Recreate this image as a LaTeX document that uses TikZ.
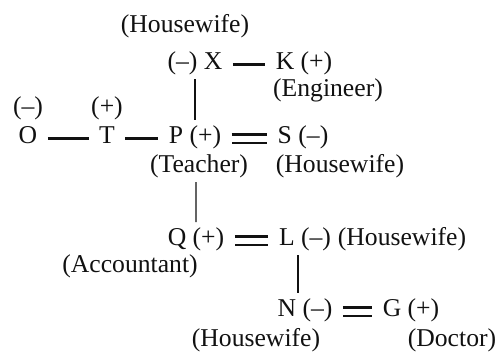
\documentclass[tikz,border=0pt]{standalone}
\usepackage{fontspec}
\setmainfont{Liberation Serif}
\usepackage{xcolor}
\usepackage{tikz}
\usetikzlibrary{positioning,calc}
\definecolor{FamInk}{HTML}{111111}

\begin{document}
\begin{tikzpicture}[
  x=0.02cm, y=-0.02cm,
  every node/.style={font=\fontsize{14.6}{16}\selectfont, text=FamInk, inner sep=0pt, outer sep=0pt, text height=0.7em, text depth=0.22em, anchor=base},
  link/.style={line width=1.6pt, draw=FamInk, shorten <=6pt, shorten >=6pt},
  wed/.style={double=white, double distance=3.4pt, line width=1.4pt, draw=FamInk, shorten <=6pt, shorten >=6pt},
  descent/.style={line width=0.8pt, draw=FamInk, shorten <=3.6pt, shorten >=6pt}
]
\useasboundingbox (0,0) rectangle (500,353);

% members
\node (X) at (195,69) {(--) X};
\node (K) at (304,69) {K (+)};
\node (O) at (28,143) {O};
\node (T) at (107,143) {T};
\node (P) at (195,143) {P (+)};
\node (S) at (303,143) {S (--)};
\node (Q) at (196,245) {Q (+)};
\node (L) at (305,245) {L (--)};
\node (N) at (305,316) {N (--)};
\node (G) at (411,316) {G (+)};

% signs and jobs
\node (xjob) at (185,32) {(Housewife)};
\node (kjob) at (328,96) {(Engineer)};
\node (osign) at (28,114) {(--)};
\node (tsign) at (107,114) {(+)};
\node (pjob) at (199,172) {(Teacher)};
\node (sjob) at (340,172) {(Housewife)};
\node (ljob) at (402,245) {(Housewife)};
\node (qjob) at (130,272) {(Accountant)};
\node (njob) at (256,346) {(Housewife)};
\node (gjob) at (452,346) {(Doctor)};

\draw[link] (X) -- (K);
\draw[link] (O) -- (T);
\draw[link] (T) -- (P);
\draw[wed] (P) -- (S);
\draw[wed] (Q) -- (L);
\draw[wed] (N) -- (G);
\draw[descent] (X) -- (P);
\draw[descent] ([xshift=-0.06cm]pjob.south) -- (Q);
\draw[descent, line width=1.7pt] ([xshift=-0.14cm]L.south) -- ([xshift=-0.14cm]N.north);
\end{tikzpicture}
\end{document}
